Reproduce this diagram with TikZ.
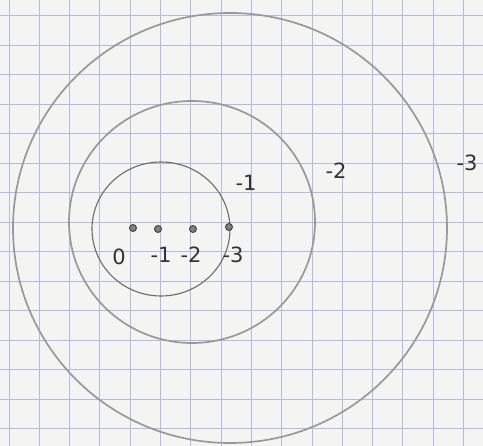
\documentclass[tikz,border=0pt]{standalone}
\usepackage{fontspec}
\setmainfont{DejaVu Sans}
\definecolor{gridc}{HTML}{B4B8E4}
\definecolor{paper}{HTML}{F4F4F2}
\begin{document}
\begin{tikzpicture}[x=1pt,y=-1pt,
  gridline/.style={draw=gridc,line width=0.9pt},
  ring/.style={draw=gray!80,line width=1.7pt},
  thinring/.style={draw=gray!85!black,line width=1.1pt},
  dotmark/.style={circle,draw=black!75,fill=black!50,line width=0.9pt,inner sep=0pt,minimum size=7pt},
  lbl/.style={text=black!80,font=\fontsize{21}{21}\selectfont,inner sep=0pt}]
\fill[paper] (0,0) rectangle (483,446);
\useasboundingbox (0,0) rectangle (483,446);
\foreach \k in {0,...,15} \draw[gridline] ({9+30.3*\k},0) -- ({9+30.3*\k},446);
\foreach \k in {0,...,14} \draw[gridline] (0,{15.5+29.5*\k}) -- (483,{15.5+29.5*\k});
% rings
\draw[ring] (230,228) ellipse [x radius=217, y radius=215];
\draw[ring] (192,222) ellipse [x radius=123, y radius=121];
\draw[thinring] (161,229) ellipse [x radius=69, y radius=67];
% dots
\node[dotmark] (d0) at (133,228) {};
\node[dotmark] (d1) at (158,229) {};
\node[dotmark] (d2) at (193,229) {};
\node[dotmark] (d3) at (229,227) {};
% labels
\node[lbl] (l0) at (119,257) {0};
\node[lbl] (l1) at (161,255) {-1};
\node[lbl] (l2) at (191,255) {-2};
\node[lbl] (l3) at (233,255) {-3};
\node[lbl] (r1) at (246,183) {-1};
\node[lbl] (r2) at (336,171) {-2};
\node[lbl] (r3) at (467,163) {-3};
\end{tikzpicture}
\end{document}
